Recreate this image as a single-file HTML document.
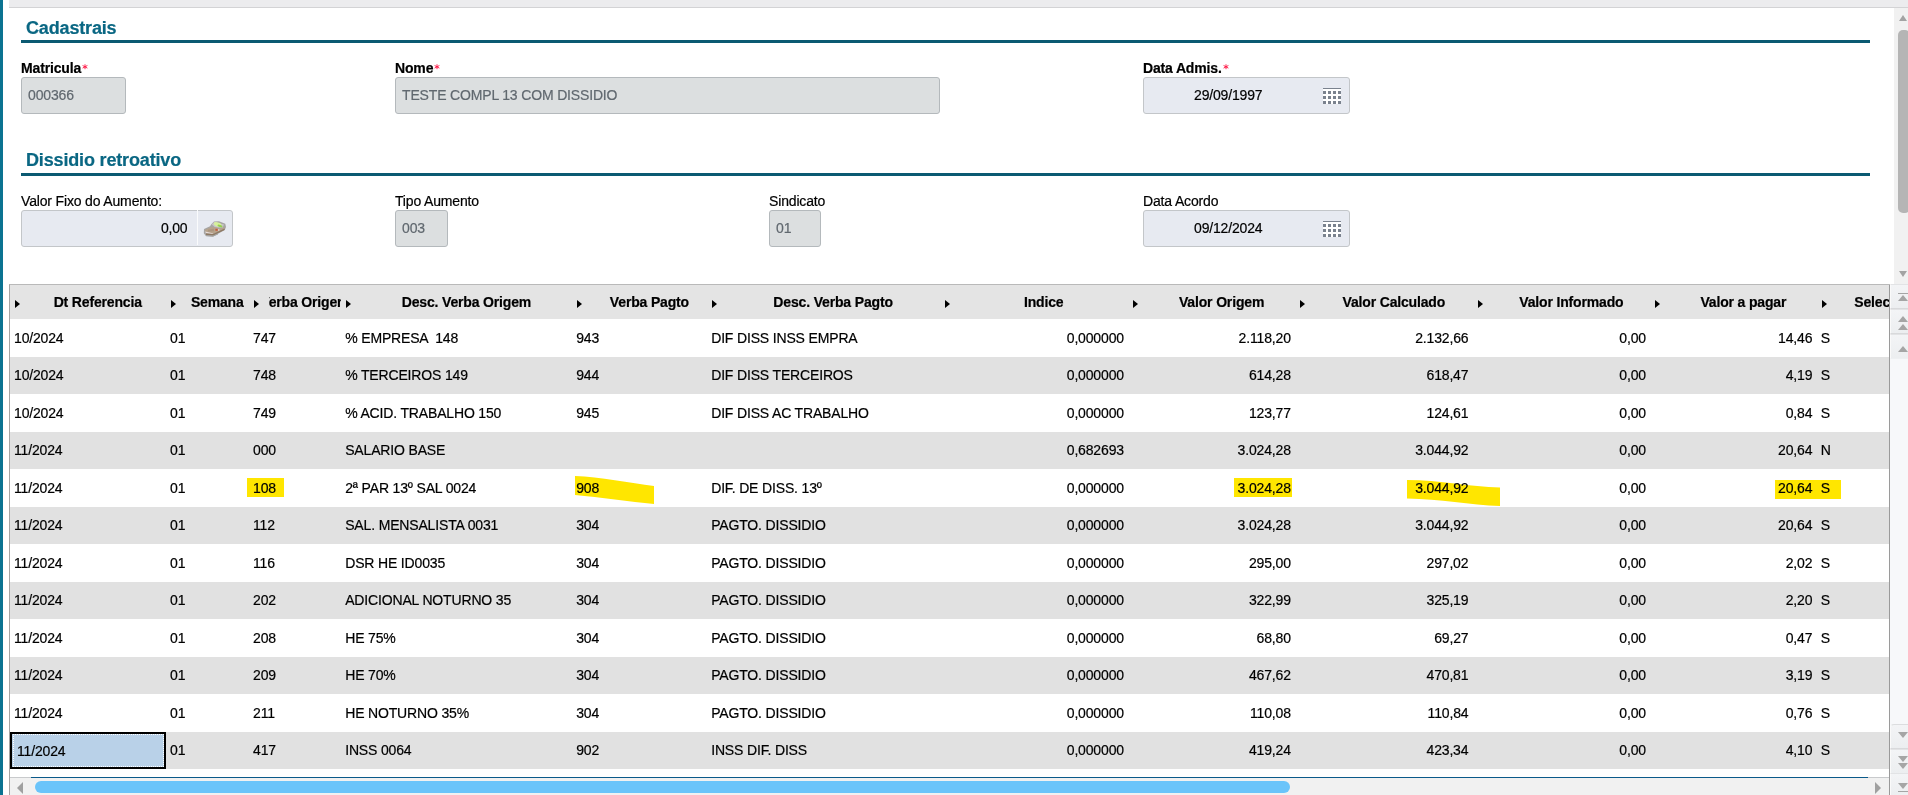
<!DOCTYPE html>
<html><head><meta charset="utf-8">
<style>
*{box-sizing:border-box;margin:0;padding:0}
html,body{width:1908px;height:795px;overflow:hidden;background:#fff;font-family:"Liberation Sans",sans-serif;font-size:14px;color:#000;position:relative;letter-spacing:-0.16px;-webkit-text-stroke:0.2px currentColor}
#lbar{position:absolute;left:0;top:0;width:3px;height:795px;background:#0b7391}
#topstrip{position:absolute;left:9px;top:0;width:1899px;height:8px;background:#ececee;border-bottom:1px solid #d3d3d5}
.sec{position:absolute;left:26px;font-weight:bold;font-size:18px;color:#0a6783;line-height:20px}
.secline{position:absolute;left:21px;width:1849px;height:3px;background:#0b5a72}
.lbl{position:absolute;font-size:14px;line-height:16px;color:#000;white-space:nowrap}
.lbl.b{font-weight:bold}
.req{display:inline-block;width:7px;height:8px;position:relative;vertical-align:baseline}.req svg{position:absolute;left:1px;top:-1px}
.inp{position:absolute;height:37px;border:1px solid #b4b9bc;border-radius:3px;background:#dcdfe0;color:#60686f;font-size:14px;line-height:35px;padding-left:6px;white-space:nowrap;overflow:hidden}
.inp.blue{background:#e7eaf1;color:#000;border-color:#c3c6c9}
.cal{position:absolute;width:18px;height:16px;background:#fff;border-top:1px solid #7a828e}
.cal i{position:absolute;width:3px;height:3px;background:#7a828e}
/* page scrollbar */
#vsb{position:absolute;left:1894px;top:8px;width:14px;height:276px;background:#f1f1f1}
#vsb .thumb{position:absolute;left:4px;top:22px;width:12px;height:183px;background:#b5b5b5;border-radius:5px}
/* grid */
#grid{position:absolute;left:9px;top:284px;width:1881px;height:511px;border-left:1px solid #a5a5a5;border-top:1px solid #b9b9b9;overflow:hidden}
#grid .rb{position:absolute;left:1879px;top:-1px;width:1px;height:512px;background:#9a9a9a}
#hdr{position:absolute;left:0;top:0;width:1879px;height:33.6px;background:#e4e4e4}
.hc{position:absolute;top:0;height:33.6px;overflow:hidden;white-space:nowrap;font-weight:bold}
.hc span{position:absolute;left:19.5px;right:0;top:1px;height:32px;line-height:33px;display:flex;justify-content:center;overflow:hidden}
.sa{position:absolute;left:5px;top:15px;width:0;height:0;border-left:5px solid #000;border-top:4.5px solid transparent;border-bottom:4.5px solid transparent}
.rw{position:absolute;left:0;width:1879px;height:37.5px;background:#fff}
.rw.g{background:#e1e1e1}
.c{position:absolute;top:0.6px;height:37.5px;line-height:37px;padding:0 4.5px 0 4px;white-space:pre;overflow:hidden}
.c.r{text-align:right}
#hsb{position:absolute;left:0;top:492px;width:1879px;height:19px;background:#f1f1f1;border-top:1px solid #c8cacc}
#hsb .bl{position:absolute;left:21px;top:-1px;width:1837px;height:1px;background:#0a5a8a}
#hsb .th{position:absolute;left:25px;top:3px;width:1255px;height:12px;background:#6ac4fa;border-radius:6px}
.tri{position:absolute;width:0;height:0}
#nav{position:absolute;left:1890px;top:284px;width:18px;height:511px;background:#f7f8fa}
.nb{position:absolute;left:0;width:18px;height:25px;background:linear-gradient(#f3f4f6,#eceef0);border-top:1px solid #e2e3e5;border-bottom:1px solid #d8d9db;border-left:1px solid #fafafa}
.hl{position:absolute;background:#ffe600;mix-blend-mode:multiply}
#sel{position:absolute;left:10px;top:732px;width:156px;height:37px;border:2px solid #000;background:#b9d1e8}
#sel .dot{position:absolute;left:1px;top:0px;right:0px;bottom:0px;border:1px dotted #fff}
#sel span{position:absolute;left:5px;top:1px;line-height:33px}
</style></head><body>
<div id="lbar"></div>
<div id="topstrip"></div>

<div class="sec" style="top:17.5px">Cadastrais</div>
<div class="secline" style="top:40px"></div>

<div class="lbl b" style="left:21px;top:60px">Matricula<span class="req"><svg width="6" height="6" viewBox="0 0 6 6"><g stroke="#ff1a48" stroke-width="0.95"><line x1="3" y1="0.3" x2="3" y2="5.2"/><line x1="0.6" y1="1.5" x2="5.4" y2="4.1"/><line x1="0.6" y1="4.1" x2="5.4" y2="1.5"/></g></svg></span></div>
<div class="inp" style="left:21px;top:77px;width:105px">000366</div>
<div class="lbl b" style="left:395px;top:60px">Nome<span class="req"><svg width="6" height="6" viewBox="0 0 6 6"><g stroke="#ff1a48" stroke-width="0.95"><line x1="3" y1="0.3" x2="3" y2="5.2"/><line x1="0.6" y1="1.5" x2="5.4" y2="4.1"/><line x1="0.6" y1="4.1" x2="5.4" y2="1.5"/></g></svg></span></div>
<div class="inp" style="left:395px;top:77px;width:545px">TESTE COMPL 13 COM DISSIDIO</div>
<div class="lbl b" style="left:1143px;top:60px">Data Admis.<span class="req"><svg width="6" height="6" viewBox="0 0 6 6"><g stroke="#ff1a48" stroke-width="0.95"><line x1="3" y1="0.3" x2="3" y2="5.2"/><line x1="0.6" y1="1.5" x2="5.4" y2="4.1"/><line x1="0.6" y1="4.1" x2="5.4" y2="1.5"/></g></svg></span></div>
<div class="inp blue" style="left:1143px;top:77px;width:207px;padding-left:50px">29/09/1997</div>
<div class="cal" style="left:1323px;top:88px"><i style="left:0px;top:2px"></i><i style="left:5px;top:2px"></i><i style="left:10px;top:2px"></i><i style="left:15px;top:2px"></i><i style="left:0px;top:7px"></i><i style="left:5px;top:7px"></i><i style="left:10px;top:7px"></i><i style="left:15px;top:7px"></i><i style="left:0px;top:12px"></i><i style="left:5px;top:12px"></i><i style="left:10px;top:12px"></i><i style="left:15px;top:12px"></i></div>

<div class="sec" style="top:149.5px">Dissidio retroativo</div>
<div class="secline" style="top:172.6px"></div>

<div class="lbl" style="left:21px;top:193px">Valor Fixo do Aumento:</div>
<div class="inp blue" style="left:21px;top:209.6px;width:211.5px;text-align:right;padding-right:44px">0,00</div>
<div style="position:absolute;left:197px;top:210px;width:1px;height:35px;background:#fafbfc"></div>
<svg style="position:absolute;left:203px;top:219px" width="24" height="20" viewBox="0 0 24 20">
 <polygon points="1,10 7,7.2 8.3,5.2 11,2.4 16,2.2 22.3,4.8 23,8 21.8,11 16,14.3 10,17.8 3,17.3 0.8,14.2" fill="#a7a5a3"/>
 <polygon points="8.8,5.6 11.2,3 21,5.4 19.6,8.8 12,8.2" fill="#c9c6c8"/>
 <polygon points="2,11 8,8.3 12.5,8.3 17,9.8 21.2,8.2 21.6,9.4 15.5,12.8 10,15 3,14" fill="#b7a38c"/>
 <polygon points="2.2,12.6 9.5,14.3 10,15 3,14.4" fill="#e8dedc"/>
 <polygon points="3,14.2 10,15 21.6,9.4 21.6,11 10,16.6 3,16" fill="#8f7a64"/>
 <polygon points="4,16.2 10,16.8 15,14.4 15,15.6 10,17.4 4,17" fill="#a3a3a3"/>
 <ellipse cx="14.6" cy="5.4" rx="3.9" ry="2.1" transform="rotate(16 14.6 5.4)" fill="#d6f09c"/>
 <ellipse cx="17" cy="7" rx="2.6" ry="1.1" transform="rotate(18 17 7)" fill="#96d050"/>
 <rect x="12.4" y="9.8" width="2.3" height="2" fill="#c65a3d"/>
 <rect x="15" y="10.4" width="1.4" height="1.2" fill="#eee6e6"/>
 <polygon points="5,10.8 11,9.8 11,12.2 5,12.6" fill="#a08a74" opacity="0.5"/>
</svg>
<div class="lbl" style="left:395px;top:193px">Tipo Aumento</div>
<div class="inp" style="left:395px;top:209.6px;width:53px">003</div>
<div class="lbl" style="left:769px;top:193px">Sindicato</div>
<div class="inp" style="left:769px;top:209.6px;width:52px">01</div>
<div class="lbl" style="left:1143px;top:193px">Data Acordo</div>
<div class="inp blue" style="left:1143px;top:209.6px;width:207px;padding-left:50px">09/12/2024</div>
<div class="cal" style="left:1323px;top:220.6px"><i style="left:0px;top:2px"></i><i style="left:5px;top:2px"></i><i style="left:10px;top:2px"></i><i style="left:15px;top:2px"></i><i style="left:0px;top:7px"></i><i style="left:5px;top:7px"></i><i style="left:10px;top:7px"></i><i style="left:15px;top:7px"></i><i style="left:0px;top:12px"></i><i style="left:5px;top:12px"></i><i style="left:10px;top:12px"></i><i style="left:15px;top:12px"></i></div>

<div id="vsb"><div class="thumb"></div>
 <div class="tri" style="left:5px;top:7px;border-bottom:6px solid #a3a3a3;border-left:4.5px solid transparent;border-right:4.5px solid transparent"></div>
 <div class="tri" style="left:5px;top:263px;border-top:6px solid #a3a3a3;border-left:4.5px solid transparent;border-right:4.5px solid transparent"></div>
</div>

<div id="grid">
<div id="hdr"><div class="hc" style="left:0.0px;width:156.0px"><i class="sa"></i><span>Dt Referencia</span></div><div class="hc" style="left:156.0px;width:83.0px"><i class="sa"></i><span>Semana</span></div><div class="hc" style="left:239.0px;width:92.2px"><i class="sa"></i><span>Verba Origem</span></div><div class="hc" style="left:331.2px;width:231.0px"><i class="sa"></i><span>Desc. Verba Origem</span></div><div class="hc" style="left:562.2px;width:135.0px"><i class="sa"></i><span>Verba Pagto</span></div><div class="hc" style="left:697.2px;width:232.3px"><i class="sa"></i><span>Desc. Verba Pagto</span></div><div class="hc" style="left:929.5px;width:188.9px"><i class="sa"></i><span>Indice</span></div><div class="hc" style="left:1118.4px;width:166.9px"><i class="sa"></i><span>Valor Origem</span></div><div class="hc" style="left:1285.3px;width:177.6px"><i class="sa"></i><span>Valor Calculado</span></div><div class="hc" style="left:1462.9px;width:177.5px"><i class="sa"></i><span>Valor Informado</span></div><div class="hc" style="left:1640.4px;width:166.4px"><i class="sa"></i><span>Valor a pagar</span></div><div class="hc" style="left:1806.8px;width:136.2px"><i class="sa"></i><span>Selecionado</span></div></div>
<div class="rw" style="top:34.00px"><div class="c" style="left:0.0px;width:156.0px">10/2024</div><div class="c" style="left:156.0px;width:83.0px">01</div><div class="c" style="left:239.0px;width:92.2px">747</div><div class="c" style="left:331.2px;width:231.0px">% EMPRESA  148</div><div class="c" style="left:562.2px;width:135.0px">943</div><div class="c" style="left:697.2px;width:232.3px">DIF DISS INSS EMPRA</div><div class="c r" style="left:929.5px;width:188.9px">0,000000</div><div class="c r" style="left:1118.4px;width:166.9px">2.118,20</div><div class="c r" style="left:1285.3px;width:177.6px">2.132,66</div><div class="c r" style="left:1462.9px;width:177.5px">0,00</div><div class="c r" style="left:1640.4px;width:166.4px">14,46</div><div class="c" style="left:1806.8px;width:136.2px">S</div></div>
<div class="rw g" style="top:71.50px"><div class="c" style="left:0.0px;width:156.0px">10/2024</div><div class="c" style="left:156.0px;width:83.0px">01</div><div class="c" style="left:239.0px;width:92.2px">748</div><div class="c" style="left:331.2px;width:231.0px">% TERCEIROS 149</div><div class="c" style="left:562.2px;width:135.0px">944</div><div class="c" style="left:697.2px;width:232.3px">DIF DISS TERCEIROS</div><div class="c r" style="left:929.5px;width:188.9px">0,000000</div><div class="c r" style="left:1118.4px;width:166.9px">614,28</div><div class="c r" style="left:1285.3px;width:177.6px">618,47</div><div class="c r" style="left:1462.9px;width:177.5px">0,00</div><div class="c r" style="left:1640.4px;width:166.4px">4,19</div><div class="c" style="left:1806.8px;width:136.2px">S</div></div>
<div class="rw" style="top:109.00px"><div class="c" style="left:0.0px;width:156.0px">10/2024</div><div class="c" style="left:156.0px;width:83.0px">01</div><div class="c" style="left:239.0px;width:92.2px">749</div><div class="c" style="left:331.2px;width:231.0px">% ACID. TRABALHO 150</div><div class="c" style="left:562.2px;width:135.0px">945</div><div class="c" style="left:697.2px;width:232.3px">DIF DISS AC TRABALHO</div><div class="c r" style="left:929.5px;width:188.9px">0,000000</div><div class="c r" style="left:1118.4px;width:166.9px">123,77</div><div class="c r" style="left:1285.3px;width:177.6px">124,61</div><div class="c r" style="left:1462.9px;width:177.5px">0,00</div><div class="c r" style="left:1640.4px;width:166.4px">0,84</div><div class="c" style="left:1806.8px;width:136.2px">S</div></div>
<div class="rw g" style="top:146.50px"><div class="c" style="left:0.0px;width:156.0px">11/2024</div><div class="c" style="left:156.0px;width:83.0px">01</div><div class="c" style="left:239.0px;width:92.2px">000</div><div class="c" style="left:331.2px;width:231.0px">SALARIO BASE</div><div class="c r" style="left:929.5px;width:188.9px">0,682693</div><div class="c r" style="left:1118.4px;width:166.9px">3.024,28</div><div class="c r" style="left:1285.3px;width:177.6px">3.044,92</div><div class="c r" style="left:1462.9px;width:177.5px">0,00</div><div class="c r" style="left:1640.4px;width:166.4px">20,64</div><div class="c" style="left:1806.8px;width:136.2px">N</div></div>
<div class="rw" style="top:184.00px"><div class="c" style="left:0.0px;width:156.0px">11/2024</div><div class="c" style="left:156.0px;width:83.0px">01</div><div class="c" style="left:239.0px;width:92.2px">108</div><div class="c" style="left:331.2px;width:231.0px">2ª PAR 13º SAL 0024</div><div class="c" style="left:562.2px;width:135.0px">908</div><div class="c" style="left:697.2px;width:232.3px">DIF. DE DISS. 13º</div><div class="c r" style="left:929.5px;width:188.9px">0,000000</div><div class="c r" style="left:1118.4px;width:166.9px">3.024,28</div><div class="c r" style="left:1285.3px;width:177.6px">3.044,92</div><div class="c r" style="left:1462.9px;width:177.5px">0,00</div><div class="c r" style="left:1640.4px;width:166.4px">20,64</div><div class="c" style="left:1806.8px;width:136.2px">S</div></div>
<div class="rw g" style="top:221.50px"><div class="c" style="left:0.0px;width:156.0px">11/2024</div><div class="c" style="left:156.0px;width:83.0px">01</div><div class="c" style="left:239.0px;width:92.2px">112</div><div class="c" style="left:331.2px;width:231.0px">SAL. MENSALISTA 0031</div><div class="c" style="left:562.2px;width:135.0px">304</div><div class="c" style="left:697.2px;width:232.3px">PAGTO. DISSIDIO</div><div class="c r" style="left:929.5px;width:188.9px">0,000000</div><div class="c r" style="left:1118.4px;width:166.9px">3.024,28</div><div class="c r" style="left:1285.3px;width:177.6px">3.044,92</div><div class="c r" style="left:1462.9px;width:177.5px">0,00</div><div class="c r" style="left:1640.4px;width:166.4px">20,64</div><div class="c" style="left:1806.8px;width:136.2px">S</div></div>
<div class="rw" style="top:259.00px"><div class="c" style="left:0.0px;width:156.0px">11/2024</div><div class="c" style="left:156.0px;width:83.0px">01</div><div class="c" style="left:239.0px;width:92.2px">116</div><div class="c" style="left:331.2px;width:231.0px">DSR HE ID0035</div><div class="c" style="left:562.2px;width:135.0px">304</div><div class="c" style="left:697.2px;width:232.3px">PAGTO. DISSIDIO</div><div class="c r" style="left:929.5px;width:188.9px">0,000000</div><div class="c r" style="left:1118.4px;width:166.9px">295,00</div><div class="c r" style="left:1285.3px;width:177.6px">297,02</div><div class="c r" style="left:1462.9px;width:177.5px">0,00</div><div class="c r" style="left:1640.4px;width:166.4px">2,02</div><div class="c" style="left:1806.8px;width:136.2px">S</div></div>
<div class="rw g" style="top:296.50px"><div class="c" style="left:0.0px;width:156.0px">11/2024</div><div class="c" style="left:156.0px;width:83.0px">01</div><div class="c" style="left:239.0px;width:92.2px">202</div><div class="c" style="left:331.2px;width:231.0px">ADICIONAL NOTURNO 35</div><div class="c" style="left:562.2px;width:135.0px">304</div><div class="c" style="left:697.2px;width:232.3px">PAGTO. DISSIDIO</div><div class="c r" style="left:929.5px;width:188.9px">0,000000</div><div class="c r" style="left:1118.4px;width:166.9px">322,99</div><div class="c r" style="left:1285.3px;width:177.6px">325,19</div><div class="c r" style="left:1462.9px;width:177.5px">0,00</div><div class="c r" style="left:1640.4px;width:166.4px">2,20</div><div class="c" style="left:1806.8px;width:136.2px">S</div></div>
<div class="rw" style="top:334.00px"><div class="c" style="left:0.0px;width:156.0px">11/2024</div><div class="c" style="left:156.0px;width:83.0px">01</div><div class="c" style="left:239.0px;width:92.2px">208</div><div class="c" style="left:331.2px;width:231.0px">HE 75%</div><div class="c" style="left:562.2px;width:135.0px">304</div><div class="c" style="left:697.2px;width:232.3px">PAGTO. DISSIDIO</div><div class="c r" style="left:929.5px;width:188.9px">0,000000</div><div class="c r" style="left:1118.4px;width:166.9px">68,80</div><div class="c r" style="left:1285.3px;width:177.6px">69,27</div><div class="c r" style="left:1462.9px;width:177.5px">0,00</div><div class="c r" style="left:1640.4px;width:166.4px">0,47</div><div class="c" style="left:1806.8px;width:136.2px">S</div></div>
<div class="rw g" style="top:371.50px"><div class="c" style="left:0.0px;width:156.0px">11/2024</div><div class="c" style="left:156.0px;width:83.0px">01</div><div class="c" style="left:239.0px;width:92.2px">209</div><div class="c" style="left:331.2px;width:231.0px">HE 70%</div><div class="c" style="left:562.2px;width:135.0px">304</div><div class="c" style="left:697.2px;width:232.3px">PAGTO. DISSIDIO</div><div class="c r" style="left:929.5px;width:188.9px">0,000000</div><div class="c r" style="left:1118.4px;width:166.9px">467,62</div><div class="c r" style="left:1285.3px;width:177.6px">470,81</div><div class="c r" style="left:1462.9px;width:177.5px">0,00</div><div class="c r" style="left:1640.4px;width:166.4px">3,19</div><div class="c" style="left:1806.8px;width:136.2px">S</div></div>
<div class="rw" style="top:409.00px"><div class="c" style="left:0.0px;width:156.0px">11/2024</div><div class="c" style="left:156.0px;width:83.0px">01</div><div class="c" style="left:239.0px;width:92.2px">211</div><div class="c" style="left:331.2px;width:231.0px">HE NOTURNO 35%</div><div class="c" style="left:562.2px;width:135.0px">304</div><div class="c" style="left:697.2px;width:232.3px">PAGTO. DISSIDIO</div><div class="c r" style="left:929.5px;width:188.9px">0,000000</div><div class="c r" style="left:1118.4px;width:166.9px">110,08</div><div class="c r" style="left:1285.3px;width:177.6px">110,84</div><div class="c r" style="left:1462.9px;width:177.5px">0,00</div><div class="c r" style="left:1640.4px;width:166.4px">0,76</div><div class="c" style="left:1806.8px;width:136.2px">S</div></div>
<div class="rw g" style="top:446.50px"><div class="c" style="left:0.0px;width:156.0px">11/2024</div><div class="c" style="left:156.0px;width:83.0px">01</div><div class="c" style="left:239.0px;width:92.2px">417</div><div class="c" style="left:331.2px;width:231.0px">INSS 0064</div><div class="c" style="left:562.2px;width:135.0px">902</div><div class="c" style="left:697.2px;width:232.3px">INSS DIF. DISS</div><div class="c r" style="left:929.5px;width:188.9px">0,000000</div><div class="c r" style="left:1118.4px;width:166.9px">419,24</div><div class="c r" style="left:1285.3px;width:177.6px">423,34</div><div class="c r" style="left:1462.9px;width:177.5px">0,00</div><div class="c r" style="left:1640.4px;width:166.4px">4,10</div><div class="c" style="left:1806.8px;width:136.2px">S</div></div>
<div id="hsb"><div class="bl"></div><div class="th"></div>
 <div class="tri" style="left:7px;top:4px;border-right:6.5px solid #a0a0a0;border-top:6px solid transparent;border-bottom:6px solid transparent"></div>
 <div class="tri" style="left:1865px;top:4px;border-left:6.5px solid #a0a0a0;border-top:6px solid transparent;border-bottom:6px solid transparent"></div>
</div>
<div class="rb"></div>
</div>
<div class="hl" style="left:247px;top:478px;width:37px;height:18.5px"></div>
<svg style="position:absolute;left:0;top:0;mix-blend-mode:multiply" width="1908" height="795">
<path d="M575,476 C600,477 630,483 654,486 L654,504 C630,502 600,497 575,495 Z" fill="#ffe600"/>
<path d="M1407,480 C1440,480 1470,487 1500,487.5 L1500,506 C1470,505 1440,499 1407,498.5 Z" fill="#ffe600"/>
</svg>
<div class="hl" style="left:1234px;top:478px;width:58px;height:18.6px"></div>
<div class="hl" style="left:1774.6px;top:480.2px;width:66.6px;height:18.5px"></div>
<div id="sel"><div class="dot"></div><span>11/2024</span></div>

<div id="nav">
 <div class="nb" style="top:0"><div style="position:absolute;left:7px;top:8px;width:10px;height:1px;background:#a5a5a5"></div><div class="tri" style="left:7px;top:10px;border-bottom:6.5px solid #a5a5a5;border-left:5px solid transparent;border-right:5px solid transparent"></div></div>
 <div class="nb" style="top:25px"><div class="tri" style="left:7px;top:6px;border-bottom:6px solid #a5a5a5;border-left:5px solid transparent;border-right:5px solid transparent"></div><div class="tri" style="left:7px;top:14px;border-bottom:6px solid #a5a5a5;border-left:5px solid transparent;border-right:5px solid transparent"></div></div>
 <div class="nb" style="top:50px;border-bottom-color:#eef0f2"><div class="tri" style="left:7px;top:11px;border-bottom:6.5px solid #a5a5a5;border-left:5px solid transparent;border-right:5px solid transparent"></div></div>
 <div class="nb" style="top:439.5px;border-top-left-radius:4px;border-top-color:#dcdddf"><div class="tri" style="left:7px;top:7.5px;border-top:6.5px solid #a5a5a5;border-left:5px solid transparent;border-right:5px solid transparent"></div></div>
 <div class="nb" style="top:465px"><div class="tri" style="left:7px;top:5.5px;border-top:6px solid #a5a5a5;border-left:5px solid transparent;border-right:5px solid transparent"></div><div class="tri" style="left:7px;top:13px;border-top:6px solid #a5a5a5;border-left:5px solid transparent;border-right:5px solid transparent"></div></div>
 <div class="nb" style="top:489px;height:23px"><div class="tri" style="left:7px;top:8.5px;border-top:6px solid #a5a5a5;border-left:5px solid transparent;border-right:5px solid transparent"></div><div style="position:absolute;left:7px;top:17px;width:10px;height:1px;background:#a5a5a5"></div></div>
</div>

</body></html>
